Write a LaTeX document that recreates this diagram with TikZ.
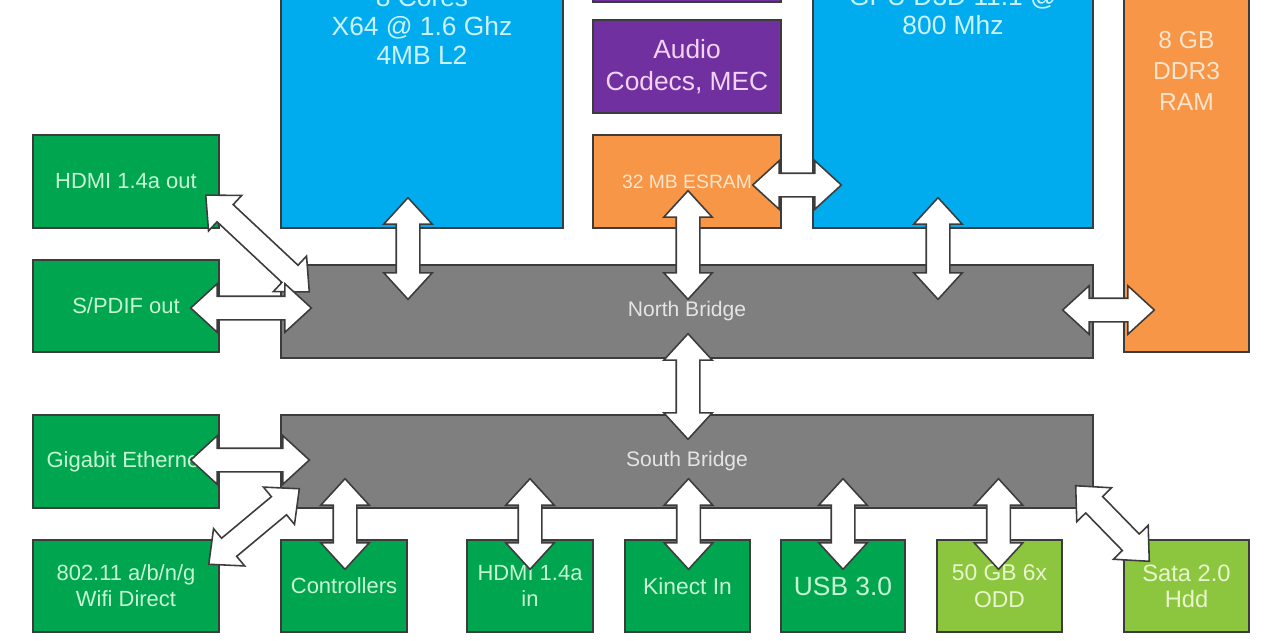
\documentclass[tikz,border=0pt]{standalone}
\usepackage{fontspec}
\setmainfont{Liberation Sans}
\usetikzlibrary{calc,shapes.arrows}
\definecolor{edge}{RGB}{60,60,60}
\definecolor{cpublue}{RGB}{0,172,238}
\definecolor{cputxt}{RGB}{205,242,255}
\definecolor{codecpurple}{RGB}{112,48,160}
\definecolor{codectxt}{RGB}{242,212,242}
\definecolor{memorange}{RGB}{247,150,70}
\definecolor{memtxt}{RGB}{253,228,205}
\definecolor{iogreen}{RGB}{0,165,80}
\definecolor{iotxt}{RGB}{200,245,210}
\definecolor{storgreen}{RGB}{140,198,63}
\definecolor{stortxt}{RGB}{232,246,205}
\definecolor{bridgegray}{RGB}{127,127,127}
\definecolor{bridgetxt}{RGB}{228,228,228}
\newcommand{\busarrow}[2]{%
  \path let \p1=#1, \p2=#2, \n1={veclen(\x2-\x1,\y2-\y1)}, \n2={atan2(\y2-\y1,\x2-\x1)} in
    node[bus,minimum height=\n1,rotate=\n2] at ($(\p1)!0.5!(\p2)$) {};}
\begin{document}
\begin{tikzpicture}[x=0.02cm,y=-0.02cm,
  box/.style={draw=edge,line width=0.8pt,inner sep=0pt,align=center,font=\fontsize{12.5}{14.8}\selectfont},
  cpubox/.style={box,fill=cpublue,text=cputxt},
  codecbox/.style={box,fill=codecpurple,text=codectxt},
  membox/.style={box,fill=memorange,text=memtxt},
  iobox/.style={box,fill=iogreen,text=iotxt},
  storbox/.style={box,fill=storgreen,text=stortxt},
  bridgebox/.style={box,fill=bridgegray,text=bridgetxt,font=\fontsize{12}{14}\selectfont},
  bus/.style={double arrow,draw=edge,fill=white,line width=0.9pt,inner xsep=0pt,inner ysep=0.22cm,
    double arrow head extend=0.25cm,double arrow tip angle=85}]
\useasboundingbox (0,0) rectangle (1280,640);
\clip (0,0) rectangle (1280,640);
\fill[white] (0,0) rectangle (1280,640);

\node[cpubox,minimum width=5.64cm,minimum height=5.76cm] (cpu) at (422,84) {};
\node[cpubox,minimum width=5.60cm,minimum height=5.76cm] (gpu) at (953,84) {};
\node[codecbox,minimum width=3.76cm,minimum height=1.86cm] (vcodec) at (687,-44.5) {};
\node[codecbox,minimum width=3.76cm,minimum height=1.86cm,font=\fontsize{15}{18}\selectfont] (audio) at (687,66.5) {Audio\\Codecs, MEC};
\node[membox,minimum width=3.76cm,minimum height=1.86cm,font=\fontsize{11}{13}\selectfont] (esram) at (687,181.5) {32 MB ESRAM};
\node[membox,minimum width=2.50cm,minimum height=8.24cm] (ram) at (1186.5,146) {};
\node[bridgebox,minimum width=16.24cm,minimum height=1.86cm] (nb) at (687,311.5) {North Bridge};
\node[bridgebox,minimum width=16.24cm,minimum height=1.86cm] (sb) at (687,461.5) {South Bridge};

\node[align=center,text=cputxt,font=\fontsize{15}{16.5}\selectfont] (cputext) at (422,26) {8 Cores\\X64 @ 1.6 Ghz\\4MB L2};
\node[align=center,text=cputxt,font=\fontsize{15}{16.5}\selectfont] (gputext) at (953,11) {GPU D3D 11.1 @\\800 Mhz};
\node[align=center,text=memtxt,font=\fontsize{14}{17.5}\selectfont] (ramtext) at (1186.5,71) {8 GB\\DDR3\\RAM};

\node[iobox,minimum width=3.72cm,minimum height=1.86cm] (hdmiout) at (126,181.5) {HDMI 1.4a out};
\node[iobox,minimum width=3.72cm,minimum height=1.84cm] (spdif) at (126,306) {S/PDIF out};
\node[iobox,minimum width=3.72cm,minimum height=1.86cm] (gbe) at (126,461.5) {Gigabit Ethernet};
\node[iobox,minimum width=3.72cm,minimum height=1.84cm] (wifi) at (126,586) {802.11 a/b/n/g\\Wifi Direct};

\node[iobox,minimum width=2.52cm,minimum height=1.84cm] (ctrl) at (344,586) {Controllers};
\node[iobox,minimum width=2.52cm,minimum height=1.84cm] (hdmiin) at (530,586) {HDMI 1.4a\\in};
\node[iobox,minimum width=2.50cm,minimum height=1.84cm,font=\fontsize{13}{15}\selectfont] (kinect) at (687.5,586) {Kinect In};
\node[iobox,minimum width=2.48cm,minimum height=1.84cm,font=\fontsize{15}{17}\selectfont] (usb) at (843,586) {USB 3.0};
\node[storbox,minimum width=2.50cm,minimum height=1.84cm,font=\fontsize{13}{15}\selectfont] (odd) at (999.5,586) {50 GB 6x\\ODD};
\node[storbox,minimum width=2.50cm,minimum height=1.84cm,font=\fontsize{13.5}{15}\selectfont] (sata) at (1186.5,586) {Sata 2.0\\Hdd};

\busarrow{($(hdmiout.east)+(-14,13.5)$)}{($(nb.west)+(29,-19.5)$)}
\busarrow{($(spdif.east)+(-29,2)$)}{($(nb.west|-spdif.east)+(31,2)$)}
\busarrow{($(cpu.south)+(-14,-31)$)}{($(cpu.south|-nb.north)+(-14,35)$)}
\busarrow{($(esram.south)+(1,-38)$)}{($(esram.south|-nb.north)+(1,35)$)}
\busarrow{($(esram.east)+(-29,3.5)$)}{($(gpu.west|-esram.east)+(29,3.5)$)}
\busarrow{($(gpu.south)+(-15,-31)$)}{($(gpu.south|-nb.north)+(-15,35)$)}
\busarrow{($(nb.east)+(-31,-1.5)$)}{($(ram.west|-nb.east)+(31,-1.5)$)}
\busarrow{($(nb.south)+(1,-25)$)}{($(sb.north)+(1,25)$)}
\busarrow{($(gbe.east)+(-29,-1.5)$)}{($(sb.west)+(29,-1.5)$)}
\busarrow{($(wifi.north east)+(-11,25)$)}{($(sb.south west)+(19,-20)$)}
\foreach \dev/\dx in {ctrl/1,hdmiin/0,kinect/1,usb/0,odd/-1}{
  \busarrow{($(\dev.north)+(\dx,30)$)}{($(\dev.north|-sb.south)+(\dx,-30)$)}}
\busarrow{($(sb.south east)+(-18,-23)$)}{($(sata.north west)+(26,22)$)}
\end{tikzpicture}
\end{document}
